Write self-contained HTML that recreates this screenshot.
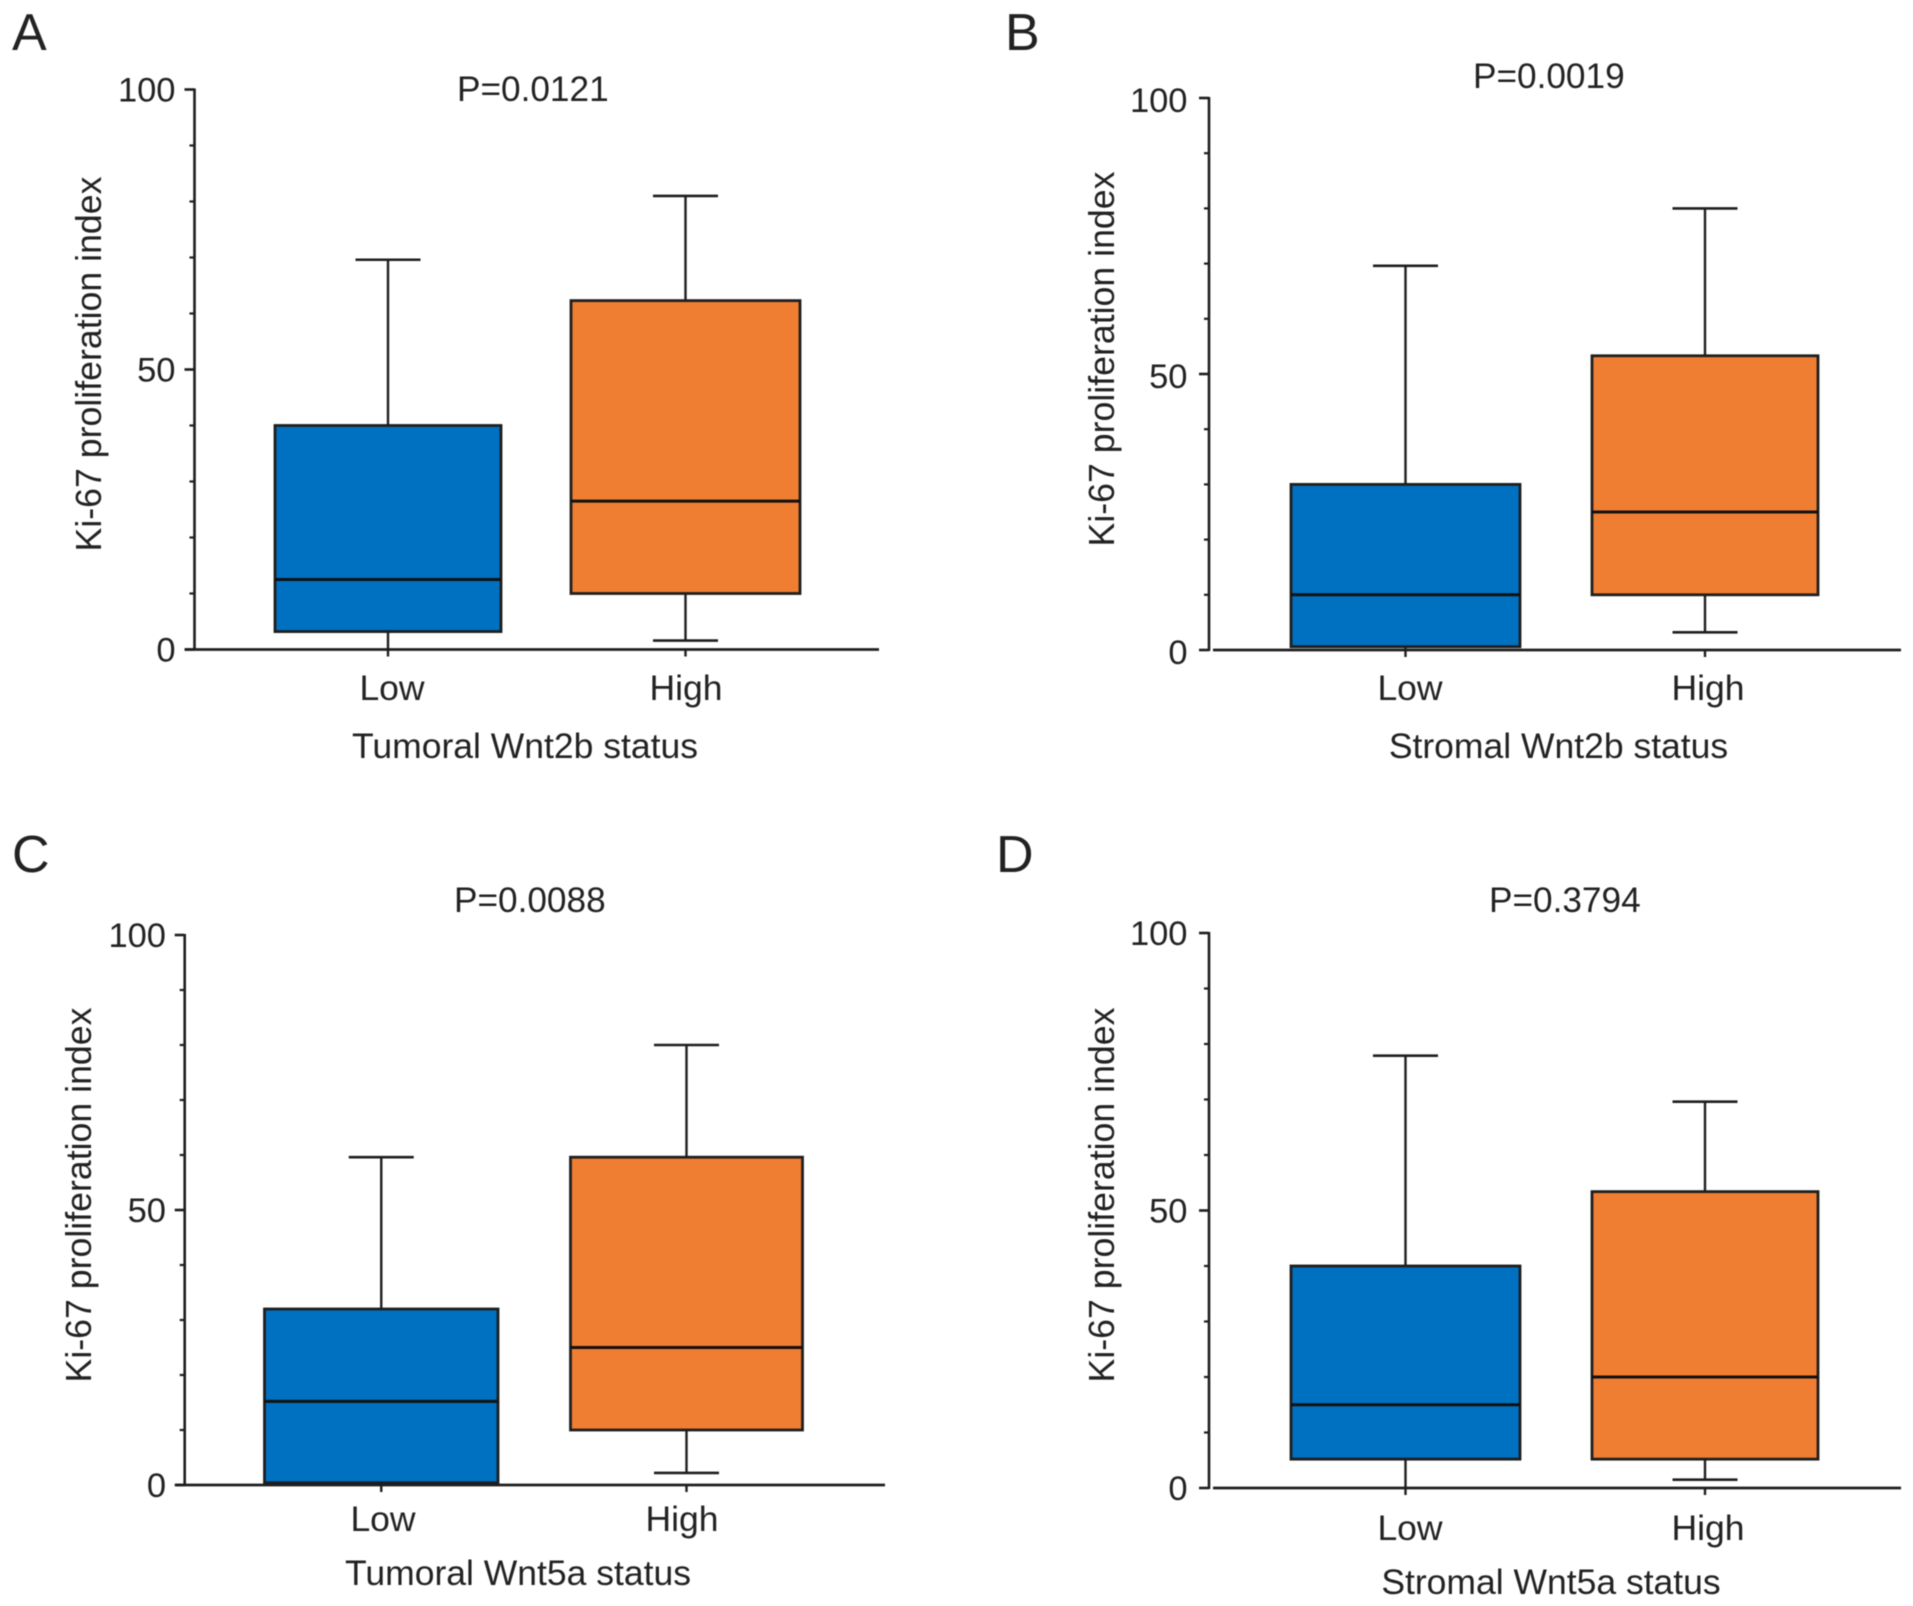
<!DOCTYPE html>
<html lang="en">
<head>
<meta charset="utf-8">
<title>Ki-67 proliferation index by Wnt status</title>
<style>
html,body{margin:0;padding:0;background:#fff;}
svg{display:block;filter:blur(0.6px);}
text{font-family:"Liberation Sans",Arial,sans-serif;fill:#222;}
</style>
</head>
<body>
<svg id="figure" xmlns="http://www.w3.org/2000/svg" width="1913" height="1606" viewBox="0 0 1913 1606">
  <rect x="0" y="0" width="1913" height="1606" fill="#fff"/>

  <g id="panel-a">
    <text x="12" y="50" font-size="52">A</text>
    <text x="457" y="101" font-size="35.2">P=0.0121</text>
    <text x="525" y="758" font-size="35.5" text-anchor="middle">Tumoral Wnt2b status</text>
    <text transform="translate(101 364) rotate(-90)" font-size="35.7" text-anchor="middle">Ki-67 proliferation index</text>
  </g>
  <g id="panel-b">
    <text x="1005" y="50" font-size="52">B</text>
    <text x="1473" y="88" font-size="35.2">P=0.0019</text>
    <text x="1558.5" y="758" font-size="35.5" text-anchor="middle">Stromal Wnt2b status</text>
    <text transform="translate(1114 359) rotate(-90)" font-size="35.7" text-anchor="middle">Ki-67 proliferation index</text>
  </g>
  <g id="panel-c">
    <text x="12" y="872" font-size="52">C</text>
    <text x="454" y="912" font-size="35.2">P=0.0088</text>
    <text x="518" y="1585" font-size="35.5" text-anchor="middle">Tumoral Wnt5a status</text>
    <text transform="translate(91 1195) rotate(-90)" font-size="35.7" text-anchor="middle">Ki-67 proliferation index</text>
  </g>
  <g id="panel-d">
    <text x="996" y="872" font-size="52">D</text>
    <text x="1489" y="912" font-size="35.2">P=0.3794</text>
    <text x="1551" y="1594" font-size="35.5" text-anchor="middle">Stromal Wnt5a status</text>
    <text transform="translate(1114 1195) rotate(-90)" font-size="35.7" text-anchor="middle">Ki-67 proliferation index</text>
  </g>
</svg>

<script>
// Shared axis data
const categories = ['Low', 'High'];
const yMajorTicks = [0, 50, 100];
const yMinorTicks = [10, 20, 30, 40, 60, 70, 80, 90];

// Box statistics per group: [whisker low, q1, median, q3, whisker high]
const panelALow  = [0, 3.2, 12.5, 40, 69.6];
const panelAHigh = [1.6, 10, 26.5, 62.3, 81];
const panelBLow  = [0, 0.6, 10, 30, 69.6];
const panelBHigh = [3.2, 10, 25, 53.3, 80];
const panelCLow  = [0, 0.4, 15.2, 32, 59.6];
const panelCHigh = [2.2, 10, 25, 59.6, 80];
const panelDLow  = [0, 5.2, 15, 40, 77.9];
const panelDHigh = [1.5, 5.2, 20, 53.4, 69.6];

// Panel frames (layout only)
const frames = [
  {id:'a', low:panelALow, high:panelAHigh, axisX:194.5, axisStart:185,  axisEnd:879,  y0:649.5, y100:89.5,
   boxes:[[275,501],[571,800]], labelRight:175.5,  labelDy:12, catX:[392,686],   catY:700},
  {id:'b', low:panelBLow, high:panelBHigh, axisX:1209,  axisStart:1213, axisEnd:1901, y0:650,   y100:98,
   boxes:[[1291,1520],[1592,1818]], labelRight:1187.5, labelDy:14, catX:[1410,1708], catY:700},
  {id:'c', low:panelCLow, high:panelCHigh, axisX:184.7, axisStart:175.5,axisEnd:885,  y0:1485,  y100:935,
   boxes:[[264.5,498],[570.5,802.5]], labelRight:166, labelDy:12, catX:[383,682],  catY:1531},
  {id:'d', low:panelDLow, high:panelDHigh, axisX:1209,  axisStart:1213, axisEnd:1901, y0:1488,  y100:933,
   boxes:[[1291,1520],[1592,1818]], labelRight:1187.5, labelDy:12, catX:[1410,1708], catY:1540}
];

const SVG_NS = 'http://www.w3.org/2000/svg';
const INK = '#1e1e1e';

function line(parent, x1, y1, x2, y2, width) {
  const el = document.createElementNS(SVG_NS, 'line');
  el.setAttribute('x1', x1);
  el.setAttribute('y1', y1);
  el.setAttribute('x2', x2);
  el.setAttribute('y2', y2);
  el.setAttribute('stroke', INK);
  el.setAttribute('stroke-width', width);
  parent.appendChild(el);
  return el;
}

function label(parent, x, y, str, anchor, size) {
  const el = document.createElementNS(SVG_NS, 'text');
  el.setAttribute('x', x);
  el.setAttribute('y', y);
  el.setAttribute('font-size', size);
  el.setAttribute('text-anchor', anchor);
  el.textContent = str;
  parent.appendChild(el);
  return el;
}

function drawBox(parent, f, stats, idx, fill, yScale, name) {
  const g = document.createElementNS(SVG_NS, 'g');
  
  
  parent.appendChild(g);

  const left = f.boxes[idx][0];
  const right = f.boxes[idx][1];
  const cx = (left + right) / 2;
  const capHalf = 32.5;
  const wLow = stats[0], q1 = stats[1], med = stats[2], q3 = stats[3], wHigh = stats[4];

  const stem = line(g, cx, yScale(wLow), cx, yScale(wHigh), 2.4);
  
  

  const capTop = line(g, cx - capHalf, yScale(wHigh), cx + capHalf, yScale(wHigh), 2.6);
  
  

  if (wLow > 0) {
    const capBottom = line(g, cx - capHalf, yScale(wLow), cx + capHalf, yScale(wLow), 2.6);
    
    
  }

  const rect = document.createElementNS(SVG_NS, 'rect');
  rect.setAttribute('x', left);
  rect.setAttribute('y', yScale(q3));
  rect.setAttribute('width', right - left);
  rect.setAttribute('height', yScale(q1) - yScale(q3));
  rect.setAttribute('fill', fill);
  rect.setAttribute('stroke', INK);
  rect.setAttribute('stroke-width', '2.8');
  
  
  g.appendChild(rect);

  const medLine = line(g, left, yScale(med), right, yScale(med), 3);
  medLine.setAttribute('stroke', '#111');
  
  
}

frames.forEach(function (f) {
  const root = document.getElementById('panel-' + f.id);
  const yScale = function (v) { return f.y0 - (f.y0 - f.y100) * v / 100; };
  const xCenter = function (i) { return (f.boxes[i][0] + f.boxes[i][1]) / 2; };

  drawBox(root, f, f.low, 0, '#0070C0', yScale, 'low');
  drawBox(root, f, f.high, 1, '#EF7D32', yScale, 'high');

  const yAxis = line(root, f.axisX, yScale(100) - 1, f.axisX, yScale(0) + 1, 2.6);
  
  

  const xAxis = line(root, f.axisStart, yScale(0), f.axisEnd, yScale(0), 2.8);
  
  

  yMajorTicks.forEach(function (t) {
    const tick = line(root, f.axisX - 10, yScale(t), f.axisX, yScale(t), 2.6);
    
    
    const txt = label(root, f.labelRight, yScale(t) + f.labelDy, String(t), 'end', 34.5);
    
    
  });

  yMinorTicks.forEach(function (t) {
    const tick = line(root, f.axisX - 5, yScale(t), f.axisX, yScale(t), 2.2);
    
    
  });

  categories.forEach(function (c, i) {
    const tick = line(root, xCenter(i), yScale(0), xCenter(i), yScale(0) + 7, 2.4);
    
    
    const txt = label(root, f.catX[i], f.catY, c, 'middle', 35.5);
    
    
  });
});
</script>
</body>
</html>
